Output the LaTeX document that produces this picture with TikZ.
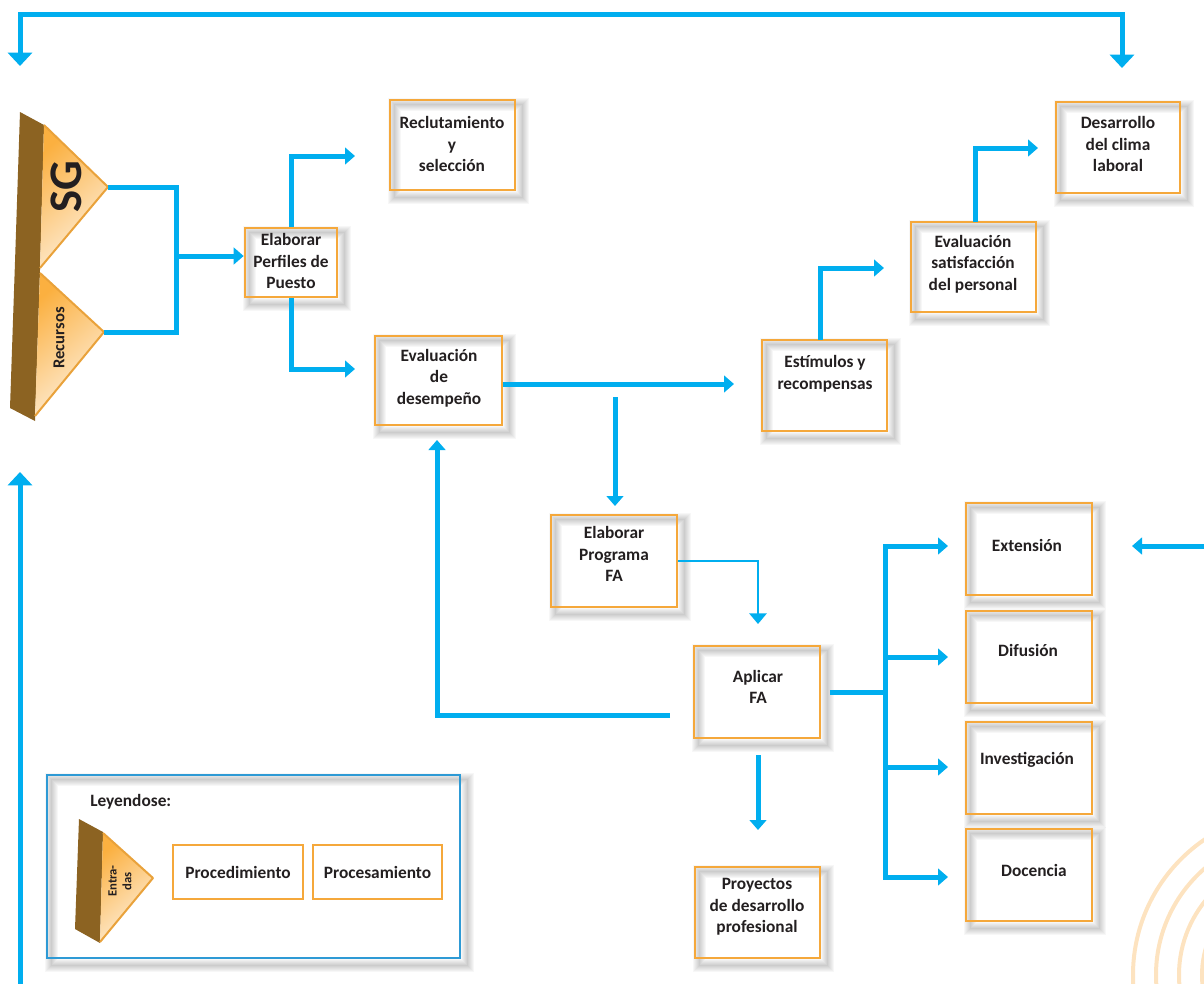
\documentclass[tikz,border=0pt]{standalone}
\usepackage{fontspec}
\setmainfont{Carlito}
\usetikzlibrary{arrows.meta,fit,backgrounds}
\definecolor{flow}{HTML}{00AEEF}
\definecolor{boxor}{HTML}{F5A83B}
\definecolor{ink}{HTML}{231F20}
\definecolor{bark}{HTML}{8C6322}
\definecolor{tria}{HTML}{FBB040}
\definecolor{trib}{HTML}{FEF0DD}
\definecolor{triline}{HTML}{E9A23B}
\definecolor{legblue}{HTML}{2E9AD5}
\definecolor{arcc}{HTML}{FDE3C0}
\begin{document}
\begin{tikzpicture}[x=0.75pt,y=-0.75pt,
  box/.style={draw=boxor,line width=2pt,inner sep=0pt},
  plainbox/.style={draw=boxor,line width=1.6pt,inner sep=0pt},
  txt/.style={font=\fontsize{13}{16.2}\selectfont\bfseries,text=ink,align=center,inner sep=0pt},
  ln/.style={draw=flow,line width=3.75pt},
  arr/.style={ln,-{Triangle[width=12.5pt,length=7.5pt]}},
  bigarr/.style={ln,{Triangle[width=18pt,length=10pt]}-{Triangle[width=18pt,length=10pt]}},
  uparr/.style={ln,-{Triangle[width=18pt,length=10pt]}},
  thinarr/.style={draw=flow,line width=1.5pt,-{Triangle[width=13pt,length=8pt]}},
  tri/.style={draw=triline,line width=1.5pt,line join=round},
  triangfill/.style={top color=tria,bottom color=trib,shading angle=40}
]
\useasboundingbox (0,0) rectangle (1204,983);

% decorative arcs
\begin{scope}
\clip (0,0) rectangle (1204,983);
\foreach \r in {164,141,118,95}
  \draw[arcc,line width=3pt] (1297,975) circle (\r);
\end{scope}

% boxes
\node[box,fit={(390,100)(515,190)}] (rec) {};
\node[box,fit={(1056,102)(1180,193)}] (dcl) {};
\node[box,fit={(245,228)(337,297)}] (elp) {};
\node[box,fit={(375,336)(502,425)}] (evd) {};
\node[box,fit={(762,340)(887,431)}] (est) {};
\node[box,fit={(911,222)(1036,312)}] (evs) {};
\node[box,fit={(551,515)(677,607)}] (epf) {};
\node[box,fit={(694,646)(820,738)}] (apl) {};
\node[box,fit={(695,867)(820,958)}] (pro) {};
\node[box,fit={(966,503)(1092,595)}] (ext) {};
\node[box,fit={(966,611)(1092,703)}] (dif) {};
\node[box,fit={(966,722)(1092,814)}] (inv) {};
\node[box,fit={(966,829)(1092,921)}] (doc) {};
\node[draw=legblue,line width=2pt,inner sep=0pt,fit={(47,775)(460,958)}] (leg) {};

% shadows
\begin{scope}[on background layer]
\foreach \n in {rec,dcl,elp,evd,est,evs,epf,apl,pro,ext,dif,inv,doc,leg}{
  \foreach \w in {1pt,2.5pt,4pt,5.5pt,7pt,8.5pt,10pt}
    \draw[black,opacity=0.033,line width=\w] ([shift={(6,6)}]\n.north west) rectangle ([shift={(6,6)}]\n.south east);
}
\end{scope}

% texts
\node[txt] (trec) at (452,144) {Reclutamiento\\y\\selección};
\node[txt] (tdcl) at (1118,144) {Desarrollo\\del clima\\laboral};
\node[txt] (telp) at (291,261) {Elaborar\\Perfiles de\\Puesto};
\node[txt] (tevd) at (439,378) {Evaluación\\de\\desempeño};
\node[txt] (test) at (825,374) {Estímulos y\\recompensas};
\node[txt] (tevs) at (973,264) {Evaluación\\satisfacción\\del personal};
\node[txt] (tepf) at (614,554) {Elaborar\\Programa\\FA};
\node[txt] (tapl) at (758,687) {Aplicar\\FA};
\node[txt] (tpro) at (757,907) {Proyectos\\de desarrollo\\profesional};
\node[txt] (text) at (1027,545) {Extensión};
\node[txt] (tdif) at (1028,650) {Difusión};
\node[txt] (tinv) at (1027,760) {Investigación};
\node[txt] (tdoc) at (1034,870) {Docencia};

% input triangles
\fill[bark] (20,112) -- (44,125) -- (40,270) -- (35,421) -- (10,408) -- (15,262) -- cycle;
\shade[triangfill] (44,125) -- (108,187) -- (40,268) -- cycle;
\draw[tri] (44,125) -- (108,187) -- (40,268);
\shade[triangfill] (40,273) -- (104,332) -- (35,416) -- cycle;
\draw[tri] (40,273) -- (104,332) -- (35,416);
\node[font=\fontsize{35}{35}\selectfont\bfseries,text=ink,rotate=90] (sg) at (66,187) {SG};
\node[font=\fontsize{12.5}{14}\selectfont\bfseries,text=ink,rotate=90] (recur) at (59,338) {Recursos};
\coordinate (sgtip) at (108,187);
\coordinate (retip) at (104,332);

% legend
\node[txt,anchor=west] (ley) at (90,802) {Leyendose:};
\fill[bark] (79,819) -- (103,832) -- (100,943) -- (75,929) -- cycle;
\shade[triangfill] (103,833) -- (153,878) -- (100,942) -- cycle;
\draw[tri] (103,833) -- (153,878) -- (100,942);
\node[font=\fontsize{9.5}{11}\selectfont\bfseries,text=ink,rotate=90,align=center] (entr) at (120,881) {Entra-\\das};
\node[plainbox,fit={(173,845)(303,899)}] (lproc) {};
\node[txt] at (lproc) {Procedimiento};
\node[plainbox,fit={(313,845)(442,899)}] (lprs) {};
\node[txt] at (lprs) {Procesamiento};

% coordinates
\coordinate (tl) at (20,66);
\coordinate (tr) at (1122,68);
\coordinate (ltop) at (20,472);
\coordinate (lbot) at (20,990);
\coordinate (j1) at (176,256);
\coordinate (c1) at (355,156);
\coordinate (c2) at (355,369);
\coordinate (e1) at (734,384);
\coordinate (d1) at (615,397);
\coordinate (d2) at (615,506);
\coordinate (a1) at (758,624);
\coordinate (s1) at (670,715);
\coordinate (s2) at (437,440);
\coordinate (p1) at (758,755);
\coordinate (p2) at (758,830);
\coordinate (b0) at (830,692);
\coordinate (j2) at (885,692);
\coordinate (jd) at (885,657);
\coordinate (ji) at (885,767);
\coordinate (t1) at (948,546);
\coordinate (t2) at (948,657);
\coordinate (t3) at (948,767);
\coordinate (t4) at (948,877);
\coordinate (r0) at (1210,546);
\coordinate (r1) at (1132,546);
\coordinate (q0) at (820,340);
\coordinate (q1) at (884,268);
\coordinate (w0) at (975,222);
\coordinate (w1) at (1038,148);

% connectors
\draw[bigarr] (tl) -- (20,14) -| (tr);
\draw[uparr] (lbot) -- (ltop);
\draw[ln] (sgtip) -| (j1) |- (retip);
\draw[arr] (j1) -- (elp.west |- j1);
\draw[arr] (elp.north) |- (c1);
\draw[arr] (elp.south) |- (c2);
\draw[arr] (evd.east |- e1) -- (e1);
\draw[arr] (d1) -- (d2);
\draw[thinarr] (epf.east) -| (a1);
\draw[arr] (s1) -| (s2);
\draw[arr] (p1) -- (p2);
\draw[ln] (b0) -- (j2);
\draw[arr] (j2) |- (t1);
\draw[arr] (j2) |- (t4);
\draw[arr] (jd) -- (t2);
\draw[arr] (ji) -- (t3);
\draw[arr] (r0) -- (r1);
\draw[arr] (q0) |- (q1);
\draw[arr] (w0) |- (w1);
\end{tikzpicture}
\end{document}
